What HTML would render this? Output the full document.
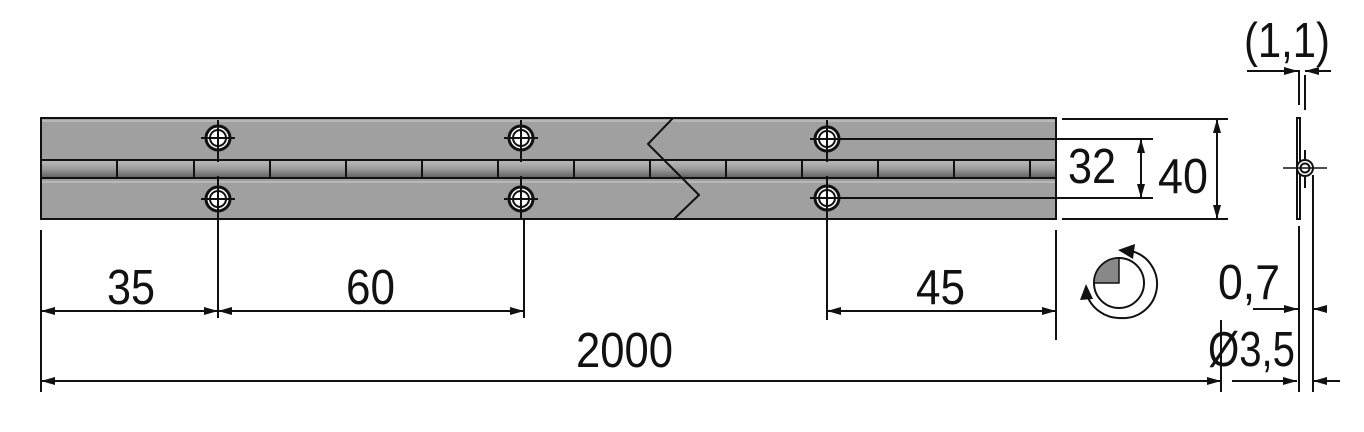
<!DOCTYPE html>
<html><head><meta charset="utf-8"><style>
html,body{margin:0;padding:0;background:#fff;width:1364px;height:432px;overflow:hidden}
svg{display:block}
text{font-family:"Liberation Sans",sans-serif;font-size:49px;fill:#111}
</style></head><body>
<svg width="1364" height="432" viewBox="0 0 1364 432" xmlns="http://www.w3.org/2000/svg">
<defs>
<linearGradient id="kn" x1="0" y1="0" x2="0" y2="1">
<stop offset="0" stop-color="#bdbdbd"/><stop offset="0.5" stop-color="#9a9a9a"/><stop offset="1" stop-color="#5e5e5e"/>
</linearGradient>
<marker id="a" viewBox="0 0 14 8" refX="14" refY="4" markerWidth="14" markerHeight="8" orient="auto-start-reverse" markerUnits="userSpaceOnUse">
<path d="M0,0 L14,4 L0,8 z" fill="#111"/></marker>
</defs>
<rect x="41" y="118" width="1015" height="101" fill="#a0a0a0" stroke="#111" stroke-width="2"/>
<line x1="42" y1="121" x2="1055" y2="121" stroke="#d0d0d0" stroke-width="1"/>
<rect x="41" y="160" width="1015" height="18" fill="url(#kn)" stroke="#111" stroke-width="2"/>
<line x1="42" y1="182" x2="1055" y2="182" stroke="#d0d0d0" stroke-width="1"/>
<g stroke="#111" stroke-width="2">
<line x1="117" y1="160" x2="117" y2="178"/><line x1="194" y1="160" x2="194" y2="178"/>
<line x1="270" y1="160" x2="270" y2="178"/><line x1="346" y1="160" x2="346" y2="178"/>
<line x1="422" y1="160" x2="422" y2="178"/><line x1="498" y1="160" x2="498" y2="178"/>
<line x1="574" y1="160" x2="574" y2="178"/><line x1="650" y1="160" x2="650" y2="178"/>
<line x1="726" y1="160" x2="726" y2="178"/><line x1="802" y1="160" x2="802" y2="178"/>
<line x1="878" y1="160" x2="878" y2="178"/><line x1="954" y1="160" x2="954" y2="178"/>
<line x1="1030" y1="160" x2="1030" y2="178"/>
</g>
<polyline points="673,118 648,144 699,195 674,219" fill="none" stroke="#111" stroke-width="2"/>
<g stroke="#111">
<circle cx="218" cy="138" r="12" fill="#fff" stroke-width="3"/><circle cx="218" cy="138" r="8" fill="#fff" stroke-width="2"/>
<circle cx="218" cy="199" r="12" fill="#fff" stroke-width="3"/><circle cx="218" cy="199" r="8" fill="#fff" stroke-width="2"/>
<circle cx="521" cy="138" r="12" fill="#fff" stroke-width="3"/><circle cx="521" cy="138" r="8" fill="#fff" stroke-width="2"/>
<circle cx="521" cy="199" r="12" fill="#fff" stroke-width="3"/><circle cx="521" cy="199" r="8" fill="#fff" stroke-width="2"/>
<circle cx="827" cy="139" r="12" fill="#fff" stroke-width="3"/><circle cx="827" cy="139" r="8" fill="#fff" stroke-width="2"/>
<circle cx="827" cy="198" r="12" fill="#fff" stroke-width="3"/><circle cx="827" cy="198" r="8" fill="#fff" stroke-width="2"/>
</g>
<g stroke="#111" stroke-width="2" fill="none">
<line x1="201" y1="138" x2="235" y2="138"/><line x1="201" y1="199" x2="235" y2="199"/>
<line x1="504" y1="138" x2="538" y2="138"/><line x1="504" y1="199" x2="538" y2="199"/>
<line x1="810" y1="139" x2="1153" y2="139"/><line x1="810" y1="198" x2="1153" y2="198"/>
<line x1="218" y1="120" x2="218" y2="162"/><line x1="218" y1="176" x2="218" y2="318"/>
<line x1="521" y1="120" x2="521" y2="162"/><line x1="524" y1="219" x2="524" y2="318"/><line x1="521" y1="176" x2="521" y2="219"/>
<line x1="827" y1="120" x2="827" y2="162"/><line x1="827" y1="176" x2="827" y2="320"/>
<line x1="41" y1="230" x2="41" y2="392"/>
<line x1="1056" y1="230" x2="1056" y2="340"/>
<line x1="1062" y1="119" x2="1228" y2="119"/><line x1="1062" y1="219" x2="1228" y2="219"/>
<line x1="1221" y1="320" x2="1221" y2="392"/>
<line x1="41" y1="311" x2="218" y2="311" marker-start="url(#a)" marker-end="url(#a)"/>
<line x1="218" y1="311" x2="524" y2="311" marker-start="url(#a)" marker-end="url(#a)"/>
<line x1="827" y1="311" x2="1056" y2="311" marker-start="url(#a)" marker-end="url(#a)"/>
<line x1="41" y1="381" x2="1221" y2="381" marker-start="url(#a)" marker-end="url(#a)"/>
<line x1="1141" y1="139" x2="1141" y2="198" marker-start="url(#a)" marker-end="url(#a)"/>
<line x1="1217" y1="119" x2="1217" y2="219" marker-start="url(#a)" marker-end="url(#a)"/>
<rect x="1297" y="118" width="3" height="101" fill="#fff"/>
<line x1="1299" y1="70" x2="1299" y2="105" /><line x1="1299" y1="226" x2="1299" y2="392"/>
<line x1="1305" y1="75" x2="1305" y2="110"/><line x1="1305" y1="150" x2="1305" y2="188"/>
<circle cx="1305" cy="168" r="8" fill="#fff"/><circle cx="1305" cy="168" r="4.5"/>
<line x1="1283" y1="168" x2="1327" y2="168" stroke-width="1.5"/>
<line x1="1313" y1="175" x2="1313" y2="392"/>
<line x1="1247" y1="71" x2="1298" y2="71" marker-end="url(#a)"/>
<line x1="1331" y1="71" x2="1305" y2="71" marker-end="url(#a)"/>
<line x1="1253" y1="309" x2="1298" y2="309" marker-end="url(#a)"/>
<line x1="1326" y1="309" x2="1313" y2="309" marker-end="url(#a)"/>
<line x1="1232" y1="381" x2="1297" y2="381" marker-end="url(#a)"/>
<line x1="1340" y1="381" x2="1313" y2="381" marker-end="url(#a)"/>
<circle cx="1119" cy="283" r="25" fill="#fff"/>
<path d="M1119,283 L1119,258 A25,25 0 0 0 1094,283 Z" fill="#888" stroke-width="1.5"/>
<path d="M1131,251 A34,34 0 0 1 1121,318" fill="none"/>
<path d="M1086,292 A35,35 0 0 0 1122,318" fill="none"/>
</g>
<path d="M1118,250 L1135,244 L1133,259 Z" fill="#111"/>
<path d="M1080,300 L1086,284 L1093,299 Z" fill="#111"/>
<text x="107" y="304" textLength="48" lengthAdjust="spacingAndGlyphs">35</text>
<text x="346" y="304" textLength="49" lengthAdjust="spacingAndGlyphs">60</text>
<text x="916" y="304" textLength="49" lengthAdjust="spacingAndGlyphs">45</text>
<text x="576" y="367" textLength="97" lengthAdjust="spacingAndGlyphs">2000</text>
<text x="1068" y="183" textLength="48" lengthAdjust="spacingAndGlyphs">32</text>
<text x="1158" y="193" textLength="50" lengthAdjust="spacingAndGlyphs">40</text>
<text x="1244" y="57" textLength="86" lengthAdjust="spacingAndGlyphs">(1,1)</text>
<text x="1218" y="299" textLength="62" lengthAdjust="spacingAndGlyphs">0,7</text>
<text x="1208" y="366" textLength="87" lengthAdjust="spacingAndGlyphs">Ø3,5</text>
</svg>
</body></html>
